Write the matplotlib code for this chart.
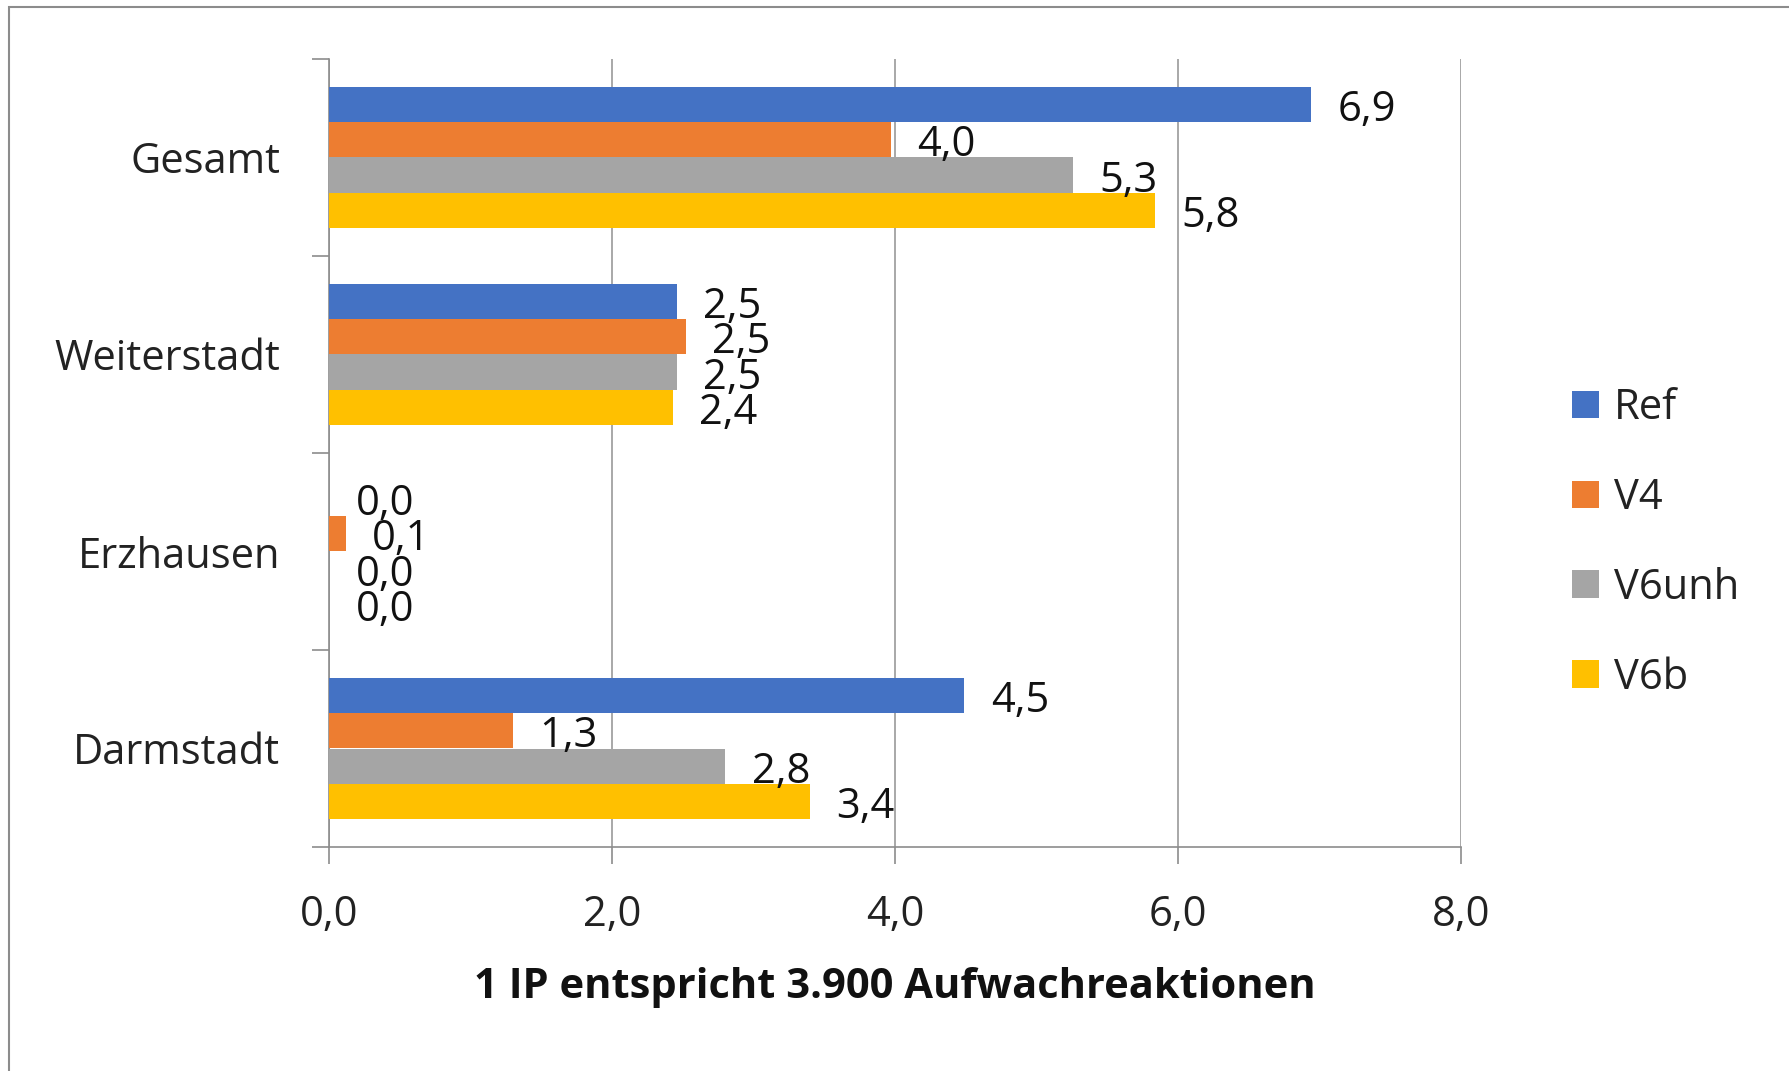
import matplotlib
matplotlib.use("Agg")
import matplotlib.pyplot as plt
from matplotlib.patches import Rectangle, Patch
import numpy as np

plt.rcParams['font.family'] = ['Open Sans', 'DejaVu Sans']

categories = ["Gesamt", "Weiterstadt", "Erzhausen", "Darmstadt"]
series_names = ["Ref", "V4", "V6unh", "V6b"]
ref_vals = [6.94, 2.46, 0.0, 4.49]
v4_vals = [3.97, 2.52, 0.12, 1.30]
v6unh_vals = [5.26, 2.46, 0.0, 2.80]
v6b_vals = [5.84, 2.43, 0.0, 3.40]
x_ticks = [0, 2, 4, 6, 8]
x_label = "1 IP entspricht 3.900 Aufwachreaktionen"

colors = ["#4472C4", "#ED7D31", "#A5A5A5", "#FFC000"]
all_vals = [ref_vals, v4_vals, v6unh_vals, v6b_vals]

FS = 30
W, H = 1789, 1071
fig = plt.figure(figsize=(W / 100, H / 100), dpi=100)
ax = fig.add_axes([329 / W, 1 - 847 / H, (1461 - 329) / W, (847 - 59) / H])

bar_h = 0.179
n = len(series_names)
y_idx = np.arange(len(categories))
for k, (vals, col, name) in enumerate(zip(all_vals, colors, series_names)):
    ypos = y_idx + (k - (n - 1) / 2) * bar_h
    ax.barh(ypos, vals, height=bar_h, color=col, label=name, zorder=3)
    for yy, v in zip(ypos, vals):
        ax.annotate(f"{v:.1f}".replace(".", ","), xy=(v, yy), xytext=(19, -4),
                    textcoords="offset points", ha="left", va="center",
                    fontsize=FS, color="#111111", zorder=4)

ax.set_ylim(len(categories) - 0.5, -0.5)
ax.set_xlim(0, 8)
ax.set_xticks(x_ticks)
ax.set_xticklabels([f"{t:.1f}".replace(".", ",") for t in x_ticks], fontsize=FS, color="#222222")
ax.set_yticks(y_idx)
ax.set_yticklabels(categories, fontsize=FS, color="#222222")
ax.tick_params(axis="y", which="major", length=0, pad=35)
ax.set_yticks(np.arange(len(categories) + 1) - 0.5, minor=True)
ax.tick_params(axis="y", which="minor", length=12, color="#8c8c8c", width=1.2)
ax.tick_params(axis="x", which="major", length=12, color="#8c8c8c", width=1.2, pad=22)

ax.grid(axis="x", color="#9a9a9a", linewidth=1.2, zorder=0)
for s in ["top", "right"]:
    ax.spines[s].set_visible(False)
for s in ["left", "bottom"]:
    ax.spines[s].set_color("#8c8c8c")
    ax.spines[s].set_linewidth(1.2)

ax.set_xlabel(x_label, fontsize=FS, fontweight="bold", color="#111111", labelpad=22)

handles = [Patch(facecolor=c, edgecolor="none") for c in colors]
fig.legend(handles, series_names, loc="center left",
           bbox_to_anchor=(1572 / W, 1 - 543 / H), frameon=False,
           fontsize=FS, handlelength=0.65, handleheight=0.65,
           handletextpad=0.35, labelspacing=1.15, borderpad=0, borderaxespad=0,
           labelcolor="#222222")

fig.patches.append(Rectangle((9 / W, -0.1), 1.2, (1 - 7 / H) + 0.1,
                             transform=fig.transFigure, fill=False,
                             edgecolor="#8c8c8c", linewidth=1.5))

fig.savefig("out.png", dpi=100)
